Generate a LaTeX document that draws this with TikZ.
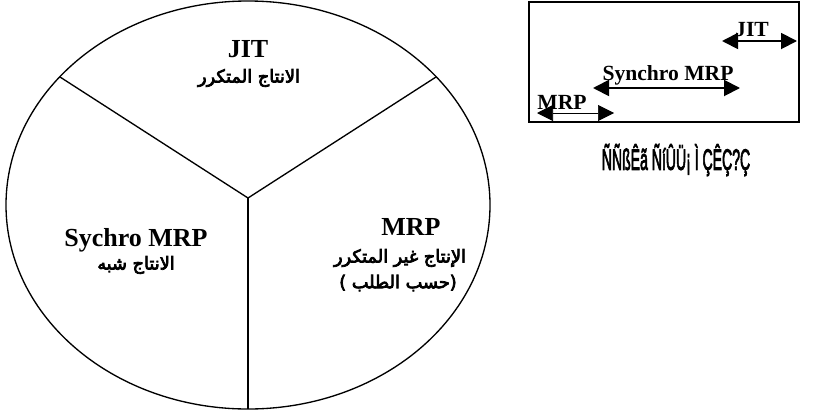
\documentclass[tikz,border=0pt]{standalone}
\usepackage{fontspec}
\setmainfont{Liberation Serif}
\newfontfamily\arabicfont[Script=Arabic]{DejaVu Sans}
\newfontfamily\condfont{Liberation Sans}
\newcommand\thickglyphs[2]{\special{pdf:literal direct 2 Tr #1 w}#2\special{pdf:literal direct 0 Tr}}
\TeXXeTstate=1
\usetikzlibrary{arrows.meta}
\begin{document}
\begin{tikzpicture}[x=0.75pt,y=-0.75pt,
  lat/.style={font=\fontsize{19.5}{21}\selectfont\bfseries, inner sep=0pt},
  arb/.style={font=\arabicfont\fontsize{13.3}{15}\selectfont, inner sep=0pt},
  small/.style={font=\fontsize{16.2}{18}\selectfont\bfseries, inner sep=0pt},
  dbl/.style={line width=1.4pt, {Triangle[width=12pt,length=12pt]}-{Triangle[width=12pt,length=12pt]}},
  thin dbl/.style={line width=0.5pt, {Triangle[width=12pt,length=12pt]}-{Triangle[width=12pt,length=12pt]}}]
\useasboundingbox (0,0) rectangle (816,411);
% pie
\draw[line width=1pt] (248,205) ellipse [x radius=242, y radius=204];
\coordinate (c) at (248,198);
\coordinate (l) at (60,77);
\coordinate (r) at (436,77);
\coordinate (b) at (248,409);
\draw[line width=1pt] (l) -- (c) -- (r);
\draw[line width=1pt] (c) -- (b);
\node[lat] (jit) at (248,49) {JIT};
\node[arb] (jita) at (249,78) {\thickglyphs{0.55}{\beginR الانتاج المتكرر\endR}};
\node[lat] (syn) at (136,240) {Sychro MRP};
\node[arb] (syna) at (136,265) {\thickglyphs{0.55}{\beginR الانتاج شبه\endR}};
\node[lat] (mrp) at (411,227) {MRP};
\node[arb] (mrpa) at (400,258) {\thickglyphs{0.55}{\beginR الإنتاج غير المتكرر\endR}};
\node[arb] (mrpb) at (398,283) {\thickglyphs{0.55}{\beginR (حسب الطلب )\endR}};
% right box
\draw[line width=1.4pt] (529,2) rectangle (799,122);
\coordinate (j1) at (722,41);
\coordinate (j2) at (797,41);
\draw[dbl] (j1) -- (j2);
\node[small] (jl) at (752,30) {JIT};
\coordinate (s1) at (593,88);
\coordinate (s2) at (740,88);
\draw[dbl] (s1) -- (s2);
\node[small] (sl) at (668,75) {Synchro MRP};
\coordinate (m1) at (537,113);
\coordinate (m2) at (614,113);
\draw[thin dbl] (m1) -- (m2);
\node[small] (ml) at (562,102) {MRP};
\node[font=\condfont\fontsize{17}{19}\selectfont, inner sep=0pt] (moj) at (676,160) {\scalebox{0.62}[1.3]{\thickglyphs{0.6}{ÑÑßÊã ÑíÛÜ¡ Ì ÇÊÇ?Ç}}};
\end{tikzpicture}
\end{document}
